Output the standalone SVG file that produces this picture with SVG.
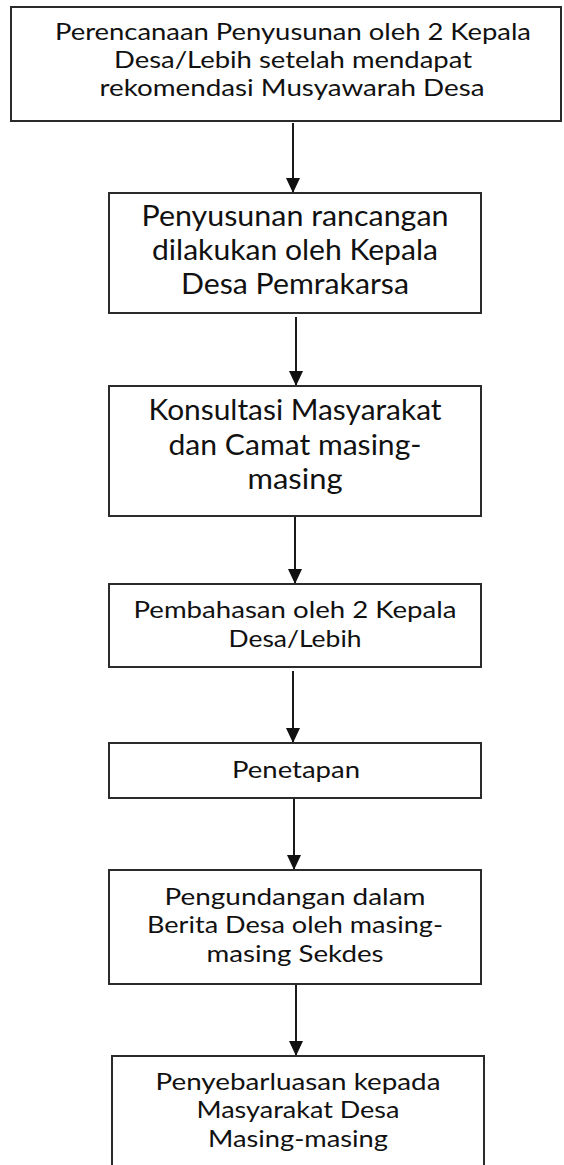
<svg xmlns="http://www.w3.org/2000/svg" width="564" height="1165" viewBox="0 0 564 1165">
<style>
  .box{fill:#fff;stroke:#2b2b2b;stroke-width:2}
  .t{font-family:Lato,"Open Sans",sans-serif;fill:#111;text-anchor:middle}
  .s1{font-size:23px}
  .s4{font-size:24px}
  .s2{font-size:28px}
  .c{stroke:#1a1a1a;stroke-width:2;fill:none}
</style>
<defs>
  <marker id="ah" markerWidth="15" markerHeight="14" refX="15" refY="7" orient="auto" markerUnits="userSpaceOnUse" viewBox="0 0 15 14">
    <path d="M0,0 L15,7 L0,14 Z" fill="#111"/>
  </marker>
</defs>
<rect width="564" height="1165" fill="#fff"/>
<g id="connectors">
  <line class="c" x1="293" y1="123" x2="293" y2="193" marker-end="url(#ah)"/>
  <line class="c" x1="296" y1="317" x2="296" y2="386" marker-end="url(#ah)"/>
  <line class="c" x1="295" y1="517" x2="295" y2="584" marker-end="url(#ah)"/>
  <line class="c" x1="293" y1="671" x2="293" y2="743" marker-end="url(#ah)"/>
  <line class="c" x1="294" y1="798" x2="294" y2="870" marker-end="url(#ah)"/>
  <line class="c" x1="296" y1="984" x2="296" y2="1056" marker-end="url(#ah)"/>
</g>
<g id="n1">
  <rect class="box" x="11" y="7" width="550" height="114"/>
  <text class="t s1" x="293" y="40" textLength="476" lengthAdjust="spacingAndGlyphs">Perencanaan Penyusunan oleh 2 Kepala</text>
  <text class="t s1" x="293" y="68" textLength="358" lengthAdjust="spacingAndGlyphs">Desa/Lebih setelah mendapat</text>
  <text class="t s1" x="292" y="96" textLength="385" lengthAdjust="spacingAndGlyphs">rekomendasi Musyawarah Desa</text>
</g>
<g id="n2">
  <rect class="box" x="109" y="193" width="372" height="120"/>
  <text class="t s2" x="295" y="226" textLength="307" lengthAdjust="spacingAndGlyphs">Penyusunan rancangan</text>
  <text class="t s2" x="295" y="260" textLength="286" lengthAdjust="spacingAndGlyphs">dilakukan oleh Kepala</text>
  <text class="t s2" x="295" y="294" textLength="228" lengthAdjust="spacingAndGlyphs">Desa Pemrakarsa</text>
</g>
<g id="n3">
  <rect class="box" x="109" y="386" width="372" height="130"/>
  <text class="t s2" x="295" y="420" textLength="293" lengthAdjust="spacingAndGlyphs">Konsultasi Masyarakat</text>
  <text class="t s2" x="295" y="455" textLength="253" lengthAdjust="spacingAndGlyphs">dan Camat masing-</text>
  <text class="t s2" x="295" y="489" textLength="95" lengthAdjust="spacingAndGlyphs">masing</text>
</g>
<g id="n4">
  <rect class="box" x="109" y="584" width="372" height="83"/>
  <text class="t s4" x="295" y="618" textLength="323" lengthAdjust="spacingAndGlyphs">Pembahasan oleh 2 Kepala</text>
  <text class="t s4" x="295" y="647" textLength="133" lengthAdjust="spacingAndGlyphs">Desa/Lebih</text>
</g>
<g id="n5">
  <rect class="box" x="109" y="743" width="372" height="55"/>
  <text class="t s4" x="296" y="778" textLength="128" lengthAdjust="spacingAndGlyphs">Penetapan</text>
</g>
<g id="n6">
  <rect class="box" x="109" y="870" width="372" height="114"/>
  <text class="t s1" x="295" y="905" textLength="261" lengthAdjust="spacingAndGlyphs">Pengundangan dalam</text>
  <text class="t s1" x="295" y="933" textLength="296" lengthAdjust="spacingAndGlyphs">Berita Desa oleh masing-</text>
  <text class="t s1" x="295" y="962" textLength="177" lengthAdjust="spacingAndGlyphs">masing Sekdes</text>
</g>
<g id="n7">
  <rect class="box" x="112" y="1056" width="372" height="120"/>
  <text class="t s1" x="298" y="1090" textLength="285" lengthAdjust="spacingAndGlyphs">Penyebarluasan kepada</text>
  <text class="t s1" x="298" y="1118" textLength="203" lengthAdjust="spacingAndGlyphs">Masyarakat Desa</text>
  <text class="t s1" x="298" y="1147" textLength="180" lengthAdjust="spacingAndGlyphs">Masing-masing</text>
</g>
</svg>
